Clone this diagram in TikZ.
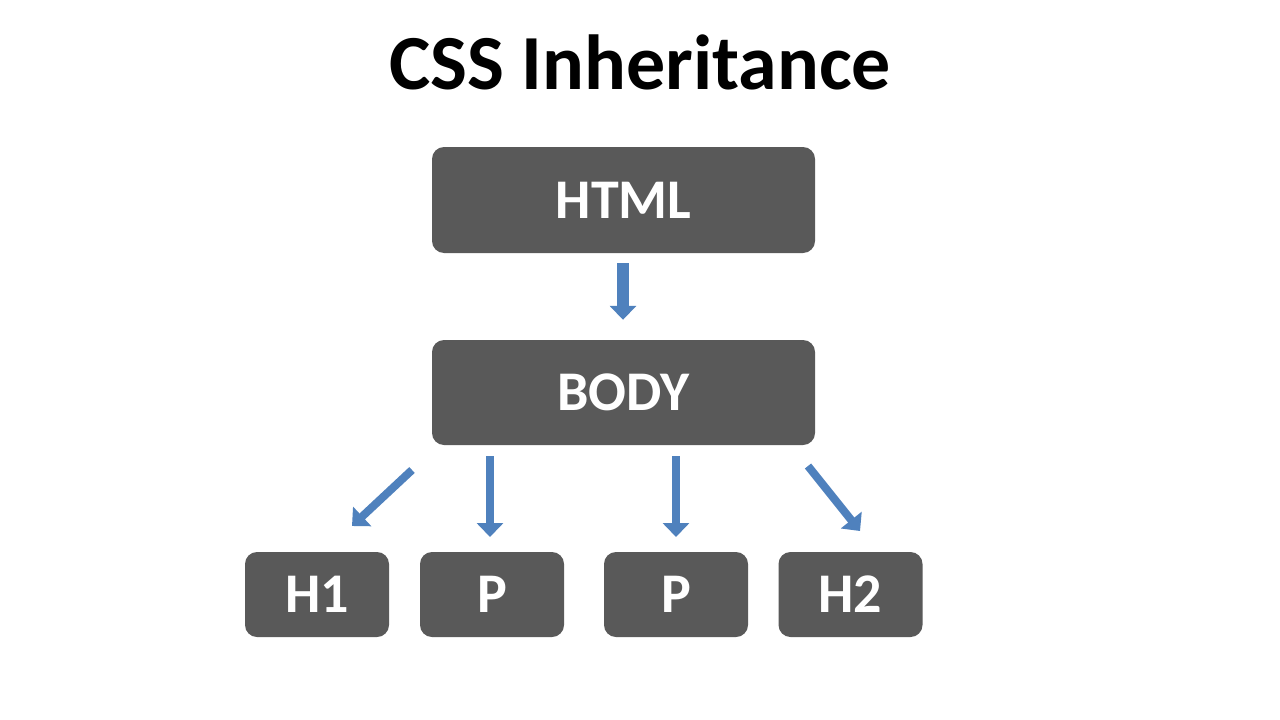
\documentclass[tikz,border=0pt]{standalone}
\usepackage{fontspec}
\setmainfont{Carlito}
\usetikzlibrary{arrows.meta}
\definecolor{boxg}{HTML}{595959}
\definecolor{arrb}{HTML}{4F81BD}
\begin{document}
\begin{tikzpicture}[x=1pt,y=-1pt,
  box/.style={fill=boxg,rounded corners=12pt,text=white,font=\bfseries\fontsize{56}{62}\selectfont,inner sep=0pt},
  arr/.style={draw=arrb,line width=12pt,-{Triangle[length=14pt,width=26pt]}}]
\useasboundingbox[fill=white] (0,0) rectangle (1280,720);
\node[font=\bfseries\fontsize{78}{86}\selectfont] (title) at (640,62) {CSS Inheritance};
\node[box,minimum width=383pt,minimum height=106pt] (html) at (623.5,200) {HTML};
\node[box,minimum width=383pt,minimum height=105pt] (body) at (623.5,392.5) {BODY};
\node[box,minimum width=144pt,minimum height=85pt] (h1) at (317,594.5) {H1};
\node[box,minimum width=144pt,minimum height=85pt] (p1) at (492,594.5) {P};
\node[box,minimum width=144pt,minimum height=85pt] (p2) at (676,594.5) {P};
\node[box,minimum width=144pt,minimum height=85pt] (h2) at (850.5,594.5) {H2};
\draw[arr] ([xshift=-0.5pt,yshift=-10pt]html.south) -- ([xshift=-0.5pt,yshift=20pt]body.north);
\coordinate (a1) at (412,470); \coordinate (b1) at (352,526);
\coordinate (a2) at (490,456); \coordinate (b2) at (490,537);
\coordinate (a3) at (676,456); \coordinate (b3) at (676,537);
\coordinate (a4) at (808,466); \coordinate (b4) at (860,531);
\draw[arr,line width=8pt] (a1) -- (b1);
\draw[arr,line width=8pt] (a2) -- (b2);
\draw[arr,line width=8pt] (a3) -- (b3);
\draw[arr,line width=8pt] (a4) -- (b4);
\end{tikzpicture}
\end{document}
